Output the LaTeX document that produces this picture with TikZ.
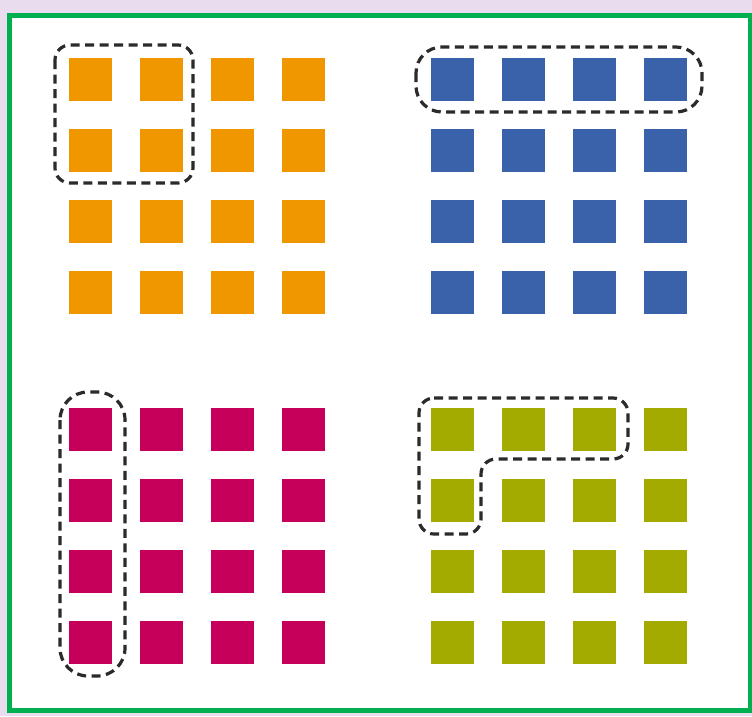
\documentclass[tikz,border=0pt]{standalone}
\usetikzlibrary{positioning}
\definecolor{lav}{HTML}{E8DCEE}
\definecolor{frameg}{HTML}{00B050}
\definecolor{cOrange}{HTML}{F09700}
\definecolor{cBlue}{HTML}{3A62AA}
\definecolor{cMag}{HTML}{C6005A}
\definecolor{cOlive}{HTML}{A3AA00}
\definecolor{dashc}{HTML}{2B2B2B}
\tikzset{
  sq/.style={inner sep=0pt, outer sep=0pt, minimum size=43pt, anchor=north west},
  group/.style={draw=dashc, line width=3.2pt, dash pattern=on 9pt off 5.5pt}
}
\begin{document}
\begin{tikzpicture}[x=1pt,y=-1pt]
\useasboundingbox (0,0) rectangle (752,716);
\fill[lav] (0,0) rectangle (752,716);
\fill[white] (9.5,15.5) rectangle (750,710);
\draw[frameg, line width=5pt] (9.5,15.5) rectangle (750,710);
\foreach \i in {0,1,2,3}{
  \foreach \j in {0,1,2,3}{
    \node[sq, fill=cOrange] (o\i\j) at ({69+71*\i},{58+71*\j}) {};
    \node[sq, fill=cBlue] (b\i\j) at ({431+71*\i},{58+71*\j}) {};
    \node[sq, fill=cMag] (m\i\j) at ({69+71*\i},{408+71*\j}) {};
    \node[sq, fill=cOlive] (g\i\j) at ({431+71*\i},{408+71*\j}) {};
  }
}
\draw[group, rounded corners=15pt] (55,45) rectangle (193,183);
\draw[group, rounded corners=26pt] (416,47) rectangle (702,112);
\draw[group, rounded corners=28pt] (60,392) rectangle (125,676);
\draw[group, rounded corners=15pt] (419,398) -- (628,398) -- (628,459) -- (481,459) -- (481,534) -- (419,534) -- cycle;
\end{tikzpicture}
\end{document}
